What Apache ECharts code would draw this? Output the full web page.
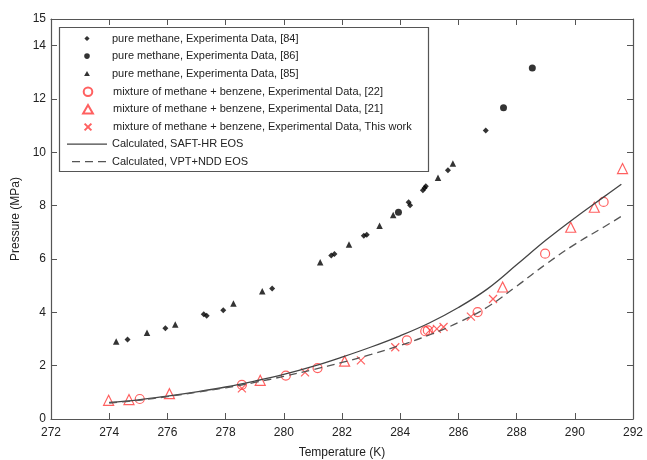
<!DOCTYPE html>
<html>
<head>
<meta charset="utf-8">
<script src="https://cdn.jsdelivr.net/npm/echarts@6/dist/echarts.min.js"></script>
<style>
  html, body { margin: 0; padding: 0; background: #fff; }
  #chart { width: 647px; height: 460px; }
</style>
</head>
<body>
<div id="chart"></div>
<script>
// Temperature (K) / pressure (MPa) pairs
const pureMethane84 = [
  [274.63, 2.98], [275.93, 3.40], [277.25, 3.93], [277.35, 3.87], [277.92, 4.08],
  [279.60, 4.89], [281.63, 6.13], [281.74, 6.19], [282.75, 6.87], [282.85, 6.91],
  [284.29, 8.13], [284.34, 8.02], [284.78, 8.58], [284.84, 8.66], [284.88, 8.73],
  [285.64, 9.33], [286.94, 10.82]
];
const pureMethane86 = [
  [283.94, 7.75], [287.55, 11.67], [288.54, 13.16]
];
const pureMethane85 = [
  [274.24, 2.91], [275.30, 3.23], [276.27, 3.54], [278.27, 4.33], [279.26, 4.79],
  [281.25, 5.88], [282.24, 6.54], [283.29, 7.25], [283.76, 7.65], [285.30, 9.05],
  [285.81, 9.58]
];
const mixture22 = [
  [275.05, 0.75], [278.56, 1.28], [280.07, 1.63], [281.16, 1.91], [284.23, 2.95],
  [284.86, 3.29], [284.95, 3.32], [286.66, 4.01], [288.98, 6.20], [290.99, 8.14]
];
const mixture21 = [
  [273.98, 0.70], [274.68, 0.73], [276.07, 0.95], [279.19, 1.45], [282.09, 2.17],
  [287.52, 4.95], [289.86, 7.19], [290.67, 7.94], [291.64, 9.39]
];
const mixtureThisWork = [
  [278.56, 1.15], [280.73, 1.75], [282.65, 2.20], [283.83, 2.69], [285.02, 3.33],
  [285.26, 3.38], [285.49, 3.45], [286.43, 3.84], [287.19, 4.50]
];
const saftHR = [
  [274, 0.62], [275, 0.72], [276, 0.86], [277, 1.02], [278, 1.20], [279, 1.42],
  [280, 1.67], [281, 1.97], [282, 2.32], [283, 2.70], [284, 3.12], [285, 3.60],
  [286, 4.18], [287, 4.88], [288, 5.78], [289, 6.70], [290, 7.54], [291, 8.33],
  [291.6, 8.80]
];
const vptNDD = [
  [274, 0.60], [275, 0.70], [276, 0.84], [277, 1.00], [278, 1.17], [279, 1.37],
  [280, 1.60], [281, 1.85], [282, 2.12], [283, 2.42], [284, 2.76], [285, 3.15],
  [286, 3.62], [287, 4.20], [288, 4.98], [289, 5.80], [290, 6.55], [291, 7.20],
  [291.6, 7.60]
];

const legendNames = [
  'pure methane, Experimenta Data, [84]',
  'pure methane, Experimenta Data, [86]',
  'pure methane, Experimenta Data, [85]',
  'mixture of methane + benzene, Experimental Data, [22]',
  'mixture of methane + benzene, Experimental Data, [21]',
  'mixture of methane + benzene, Experimental Data, This work',
  'Calculated, SAFT-HR EOS',
  'Calculated, VPT+NDD EOS'
];

const RED = '#ff3838';
const AXIS = '#555';
const FONT = 'Liberation Sans, Arial, sans-serif';
const crossPath = 'path://M0,0L10,10M10,0L0,10';

// Legend key glyphs, drawn in a 40x10 box (the two leading moves fix the box size)
const BOX = 'path://M0,0M40,10';
const legendIcons = [
  BOX + 'M20,2.4L22.6,5L20,7.6L17.4,5Z',
  BOX + 'M22.8,5A2.8,2.8,0,1,1,17.2,5A2.8,2.8,0,1,1,22.8,5Z',
  BOX + 'M20,2.2L22.9,7.4L17.1,7.4Z',
  BOX + 'M24.3,5A4.3,4.3,0,1,1,15.7,5A4.3,4.3,0,1,1,24.3,5Z',
  BOX + 'M20,0.6L24.9,9.2L15.1,9.2Z',
  BOX + 'M16.6,1.6L23.4,8.4M23.4,1.6L16.6,8.4',
  BOX + 'M0,4.4L40,4.4L40,5.6L0,5.6Z',
  BOX + 'M5,4.4L13,4.4L13,5.6L5,5.6ZM18,4.4L26,4.4L26,5.6L18,5.6ZM31,4.4L39,4.4L39,5.6L31,5.6Z'
];

const rowTop = 38, rowStep = 17.6;
const legends = legendNames.map((name, i) => ({
  data: [{ name: name, icon: legendIcons[i] }],
  orient: 'vertical',
  left: 67,
  top: rowTop + i * rowStep - 5,
  itemWidth: 40,
  itemHeight: 10,
  padding: 0,
  selectedMode: false,
  textStyle: { fontSize: 11, fontFamily: FONT, color: '#222' },
  z: 6
}));

const tickStyle = { show: true, inside: true, length: 6, lineStyle: { color: AXIS, width: 1 } };
const lineStyleAxis = { show: true, onZero: false, lineStyle: { color: AXIS, width: 1.2 } };

const option = {
  animation: false,
  backgroundColor: '#fff',
  grid: { left: 51, right: 14, top: 19, bottom: 41, containLabel: false, outerBoundsMode: 'none' },
  legend: legends,
  graphic: [{
    type: 'rect',
    shape: { x: 59.5, y: 27.5, width: 369, height: 144 },
    style: { fill: '#fff', stroke: AXIS, lineWidth: 1.2 },
    z: 5
  }],
  xAxis: [{
    type: 'value', min: 272, max: 292, interval: 2, position: 'bottom',
    name: 'Temperature (K)', nameLocation: 'middle', nameGap: 28,
    nameTextStyle: { fontSize: 12, fontFamily: FONT, color: '#222' },
    axisLine: lineStyleAxis, axisTick: tickStyle,
    axisLabel: { fontSize: 12, fontFamily: FONT, color: '#222', margin: 8 },
    splitLine: { show: false }
  }, {
    type: 'value', min: 272, max: 292, interval: 2, position: 'top',
    axisLine: lineStyleAxis, axisTick: tickStyle,
    axisLabel: { show: false }, splitLine: { show: false }
  }],
  yAxis: [{
    type: 'value', min: 0, max: 15, interval: 2, position: 'left',
    name: 'Pressure (MPa)', nameLocation: 'middle', nameGap: 25, nameRotate: 90,
    nameTextStyle: { fontSize: 12, fontFamily: FONT, color: '#222' },
    axisLine: lineStyleAxis, axisTick: tickStyle,
    axisLabel: { fontSize: 12, fontFamily: FONT, color: '#222', margin: 5 },
    splitLine: { show: false }
  }, {
    type: 'value', min: 0, max: 15, interval: 2, position: 'right',
    axisLine: lineStyleAxis, axisTick: tickStyle,
    axisLabel: { show: false }, splitLine: { show: false }
  }],
  series: [
    {
      name: legendNames[0], type: 'scatter', data: pureMethane84,
      symbol: 'diamond', symbolSize: 6, itemStyle: { color: '#000' }
    },
    {
      name: legendNames[1], type: 'scatter', data: pureMethane86,
      symbol: 'circle', symbolSize: 7, itemStyle: { color: '#000' }
    },
    {
      name: legendNames[2], type: 'scatter', data: pureMethane85,
      symbol: 'triangle', symbolSize: 6.5, itemStyle: { color: '#000' }
    },
    {
      name: legendNames[3], type: 'scatter', data: mixture22,
      symbol: 'circle', symbolSize: 9,
      itemStyle: { color: 'rgba(255,255,255,0)', borderColor: RED, borderWidth: 1.2 }
    },
    {
      name: legendNames[4], type: 'scatter', data: mixture21,
      symbol: 'triangle', symbolSize: 10,
      itemStyle: { color: 'rgba(255,255,255,0)', borderColor: RED, borderWidth: 1.2 }
    },
    {
      name: legendNames[5], type: 'scatter', data: mixtureThisWork,
      symbol: crossPath, symbolSize: 8,
      itemStyle: { color: 'rgba(255,255,255,0)', borderColor: RED, borderWidth: 1.2 }
    },
    {
      name: legendNames[6], type: 'line', data: saftHR, smooth: 0.4,
      symbol: 'none', lineStyle: { color: '#444', width: 1.3 }, itemStyle: { color: '#444' }
    },
    {
      name: legendNames[7], type: 'line', data: vptNDD, smooth: 0.4,
      symbol: 'none', lineStyle: { color: '#555', width: 1.3, type: [8, 5] }, itemStyle: { color: '#555' }
    }
  ]
};

const chart = echarts.init(document.getElementById('chart'), null, { renderer: 'canvas' });
chart.setOption(option);
</script>
</body>
</html>
